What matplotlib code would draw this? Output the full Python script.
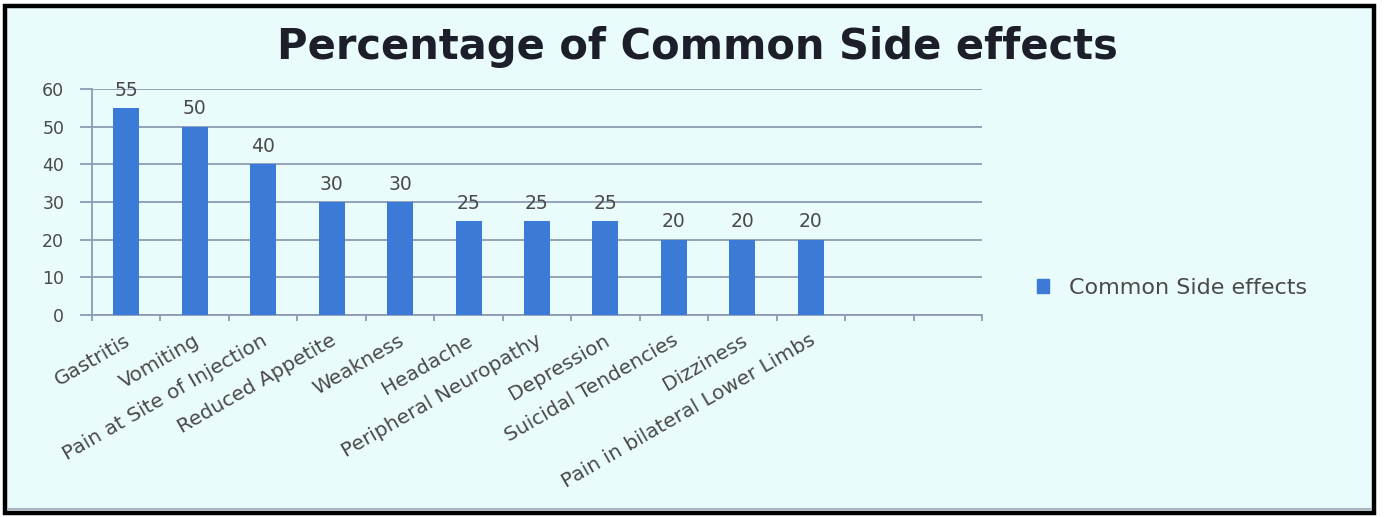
import matplotlib
matplotlib.use("Agg")
import matplotlib.pyplot as plt
from matplotlib.patches import Rectangle, Patch
from matplotlib.lines import Line2D
from matplotlib.transforms import offset_copy
import numpy as np

# ---- data ----
categories = ["Gastritis", "Vomiting", "Pain at Site of Injection", "Reduced Appetite",
              "Weakness", "Headache", "Peripheral Neuropathy", "Depression",
              "Suicidal Tendencies", "Dizziness", "Pain in bilateral Lower Limbs"]
values = [55, 50, 40, 30, 30, 25, 25, 25, 20, 20, 20]
series_name = "Common Side effects"
title = "Percentage of Common Side effects"
y_ticks = [0, 10, 20, 30, 40, 50, 60]
n_slots = 13  # category axis has two empty slots at the end

# ---- style ----
BG = "#EAFBFB"
BAR = "#3B7AD6"
GRID = "#8E9BB3"
TXT = "#4A4A4A"

W, H, DPI = 1385, 517, 100
fig = plt.figure(figsize=(W / DPI, H / DPI), dpi=DPI, facecolor="white")

def px(x, y):
    return x / W, 1 - y / H

# outer frame
x0, y0 = px(5, 513)
x1, y1 = px(1374, 6)
fig.patches.append(Rectangle((x0, y0), x1 - x0, y1 - y0, transform=fig.transFigure,
                             facecolor=BG, edgecolor="black", linewidth=3.2, zorder=-5))
fig.lines.append(Line2D([px(8, 0)[0], px(1371, 0)[0]], [px(0, 509)[1]] * 2,
                        transform=fig.transFigure, color="#A9B4C4", lw=1.5, zorder=-4))

left, top = px(92, 89)
right, bottom = px(982, 315)
ax = fig.add_axes([left, bottom, right - left, top - bottom])
ax.set_zorder(2)
ax.set_facecolor("none")

x = np.arange(len(categories))
bars = ax.bar(x, values, width=0.38, color=BAR, zorder=3, label=series_name)

ax.set_xlim(-0.5, n_slots - 0.5)
ax.set_ylim(0, 60)
ax.set_yticks(y_ticks)
ax.yaxis.grid(True, color=GRID, lw=1.3, zorder=0)
ax.set_axisbelow(True)

for s in ["top", "right"]:
    ax.spines[s].set_visible(False)
for s in ["left", "bottom"]:
    ax.spines[s].set_color(GRID)
    ax.spines[s].set_linewidth(1.3)

ax.tick_params(axis="y", length=9, width=1.3, color=GRID, pad=11,
               labelsize=12.5, labelcolor=TXT)
ax.set_xticks(np.arange(-0.5, n_slots, 1.0))
ax.set_xticklabels([])
ax.tick_params(axis="x", length=4, width=1.3, color=GRID, direction="out")

# category labels
lab_tr = offset_copy(ax.get_xaxis_transform(), fig=fig, x=3, y=-24, units="dots")
for xi, name in zip(x, categories):
    ax.text(xi, 0, name, transform=lab_tr, rotation=30, rotation_mode="anchor",
            ha="right", va="center", fontsize=14.5, color=TXT, clip_on=False)

# data labels
for xi, v in zip(x, values):
    ax.annotate(str(v), (xi, v), xytext=(0, 6), textcoords="offset points",
                ha="center", va="bottom", fontsize=13.5, color=TXT,
                annotation_clip=False)

# title
tx, ty = px(697, 47)
fig.text(tx, ty, title, ha="center", va="center", fontsize=30, fontweight="bold",
         color="#1C1F2A")

# legend
lx, ly = px(1017, 288)
fig.legend(handles=[Patch(color=BAR)], labels=[series_name], loc="center left",
           bbox_to_anchor=(lx, ly), frameon=False, fontsize=16,
           handlelength=0.55, handleheight=0.55, handletextpad=0.9,
           labelcolor=TXT)

fig.savefig("out.png", dpi=DPI, facecolor="white")
